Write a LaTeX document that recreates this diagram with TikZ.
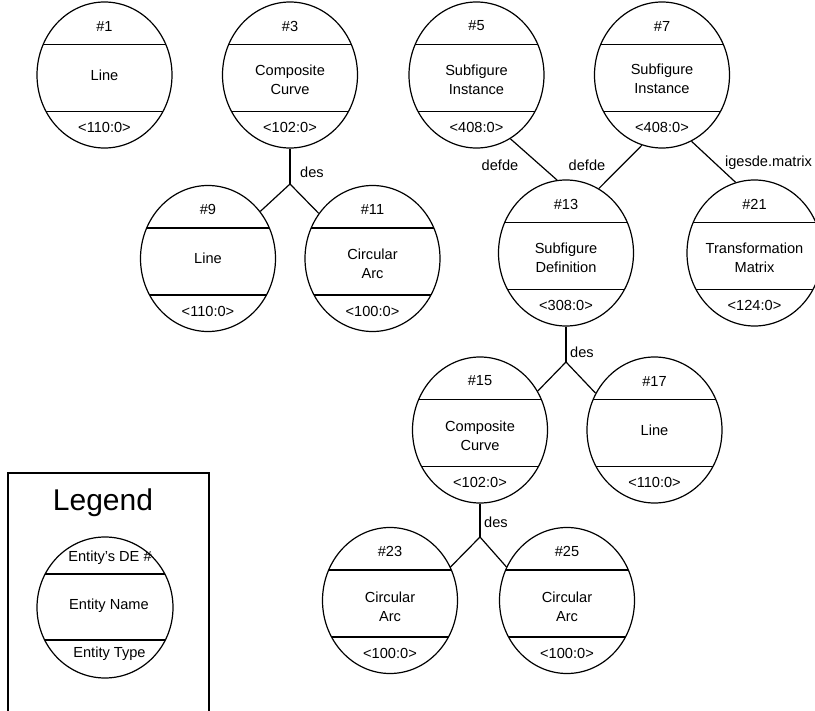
\documentclass[tikz,border=0pt]{standalone}
\usepackage{fontspec}
\setmainfont{Liberation Sans}
\usetikzlibrary{shapes.geometric,calc}
\tikzset{
  entshape/.style={ellipse, draw, line width=1.2pt, minimum width=135pt, minimum height=146pt, inner sep=0pt},
  lbl/.style={font=\fontsize{14.6}{19}\selectfont, inner sep=0pt, align=center},
  conn/.style={draw, line width=1.2pt},
  chord/.style={draw, line width=1.2pt},
}
\newcommand{\entity}[7]{%
  \node[entshape] (#1) at (#2,#3) {};
  \draw[chord] ($(#1.center)+(-61.3,-30.5)$) -- ($(#1.center)+(61.3,-30.5)$);
  \draw[chord] ($(#1.center)+(-58.5,36.5)$) -- ($(#1.center)+(58.5,36.5)$);
  \node[lbl] (#1num) at ($(#1.center)+(0,-49)$) {#4};
  \node[lbl] (#1name) at ($(#1.center)+(0,#7)$) {#5};
  \node[lbl] (#1type) at ($(#1.center)+(0,52.5)$) {#6};
}
\begin{document}
\begin{tikzpicture}[x=1pt,y=-1pt]
\useasboundingbox (0,0) rectangle (815,711);
\clip (0,0) rectangle (815,711);

% entities
\entity{n1}{104.5}{75}{\#1}{Line}{<110:0>}{0}
\entity{n3}{290}{75}{\#3}{Composite\\Curve}{<102:0>}{5}
\entity{n5}{476.5}{75}{\#5}{Subfigure\\Instance}{<408:0>}{5}
\entity{n7}{662}{75}{\#7}{Subfigure\\Instance}{<408:0>}{4}
\entity{n9}{208}{258.5}{\#9}{Line}{<110:0>}{0}
\entity{n11}{372.5}{258.5}{\#11}{Circular\\Arc}{<100:0>}{5}
\entity{n13}{566}{253}{\#13}{Subfigure\\Definition}{<308:0>}{5}
\entity{n21}{754.5}{253}{\#21}{Transformation\\Matrix}{<124:0>}{4.5}
\entity{n15}{480}{430}{\#15}{Composite\\Curve}{<102:0>}{6}
\entity{n17}{654.5}{430}{\#17}{Line}{<110:0>}{0}
\entity{n23}{390}{600.5}{\#23}{Circular\\Arc}{<100:0>}{6}
\entity{n25}{567}{600.5}{\#25}{Circular\\Arc}{<100:0>}{6}

% junctions
\coordinate (j1) at (290,184);
\coordinate (j2) at (566,362);
\coordinate (j3) at (480,537);

\draw[conn] (n3.south) -- (j1);
\draw[conn] (j1) -- (n9.42);
\draw[conn] (j1) -- (n11.140);
\draw[conn] (n13.south) -- (j2);
\draw[conn] (j2) -- (n15.34);
\draw[conn] (j2) -- (n17.148);
\draw[conn] (n15.south) -- (j3);
\draw[conn] (j3) -- (n23.29);
\draw[conn] (j3) -- (n25.151);

\draw[conn] (n5.-62) -- (n13.97);
\draw[conn] (n7.-106) -- (n13.63);
\draw[conn] (n7.-66) -- (n21.105);

% edge labels
\node[lbl] (des1) at (312,172) {des};
\node[lbl] (des2) at (582,352) {des};
\node[lbl] (des3) at (496,522) {des};
\node[lbl] (defde1) at (500,165) {defde};
\node[lbl] (defde2) at (587,165) {defde};
\node[lbl] (igesde) at (768.5,163) {igesde.matrix};

% legend
\draw[line width=1.2pt] (8,715) -- (8,473) -- (209,473) -- (209,715);
\node[font=\fontsize{30}{36}\selectfont, inner sep=0pt] (legtitle) at (103,503) {Legend};
\node[ellipse, draw, line width=1.2pt, minimum width=136pt, minimum height=141pt, inner sep=0pt] (leg) at (105,607.5) {};
\draw[chord] ($(leg.center)+(-59.8,-33.5)$) -- ($(leg.center)+(59.8,-33.5)$);
\draw[chord] ($(leg.center)+(-60.3,32.5)$) -- ($(leg.center)+(60.3,32.5)$);
\node[lbl] (legnum) at (110,558) {Entity{\char"27}s DE \#};
\node[lbl] (legname) at (109,606) {Entity Name};
\node[lbl] (legtype) at (109.5,654) {Entity Type};
\end{tikzpicture}
\end{document}
